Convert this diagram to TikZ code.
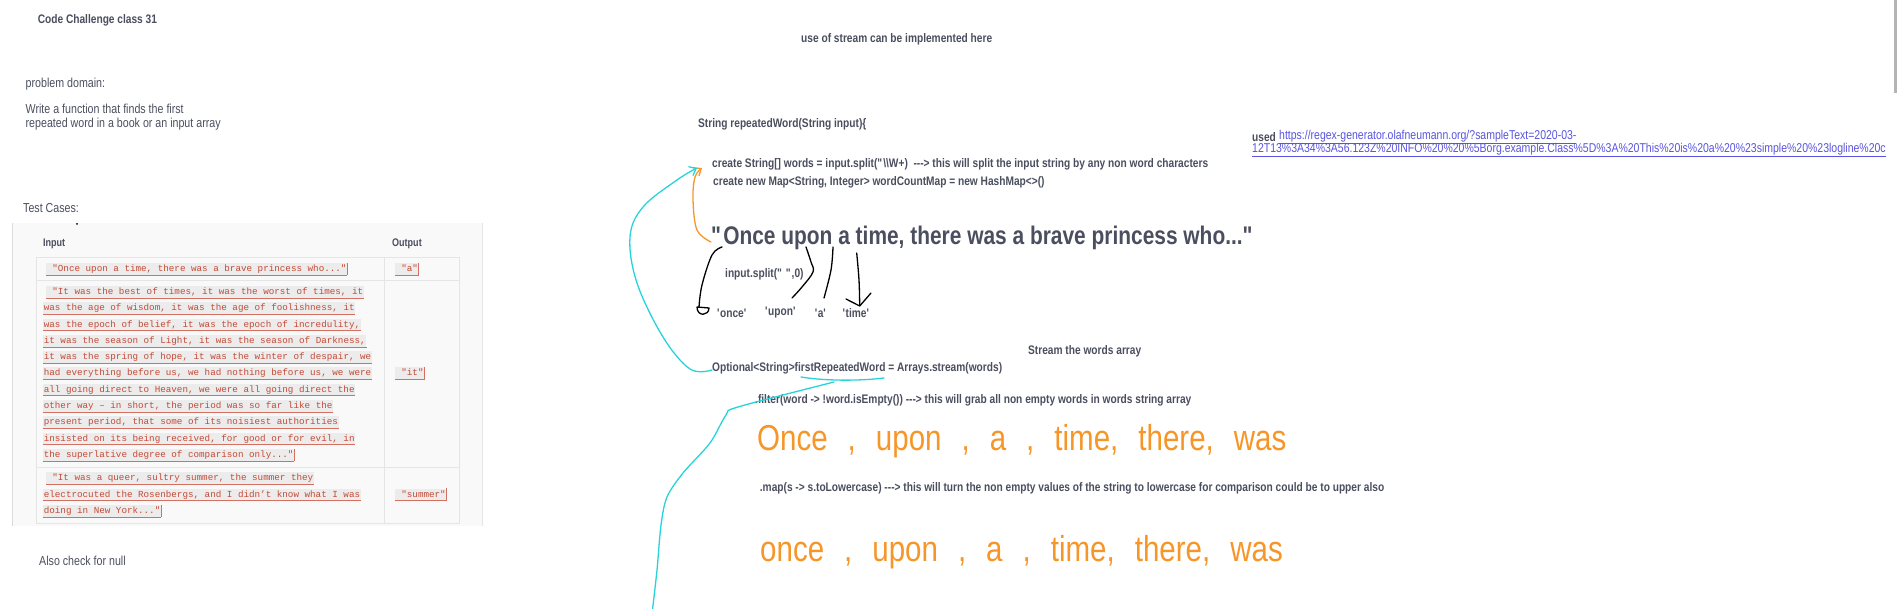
\documentclass[tikz,border=0pt]{standalone}
\usepackage{fontspec}
\setmainfont{Liberation Sans}[FakeStretch=0.82]
\setmonofont{Liberation Mono}
\usetikzlibrary{positioning, arrows.meta}

\definecolor{slate}{RGB}{74,78,94}
\definecolor{codered}{RGB}{196,74,54}
\definecolor{codeline}{RGB}{212,112,98}
\definecolor{codebg}{RGB}{236,236,236}
\definecolor{panelbg}{RGB}{249,249,249}
\definecolor{paneledge}{RGB}{220,220,220}
\definecolor{gridline}{RGB}{229,229,229}
\definecolor{pencyan}{RGB}{38,212,216}
\definecolor{penorange}{RGB}{247,150,40}
\definecolor{linkblue}{RGB}{88,84,222}
\definecolor{scrollgray}{RGB}{180,180,180}

\newcommand{\handgap}{\spaceskip 20pt\relax}

\begin{document}
\begin{tikzpicture}[
    x=1pt, y=-1pt,
    txt/.style={anchor=west, inner sep=0pt, text=slate, font=\fontsize{13}{13.5}\selectfont},
    note/.style={anchor=west, inner sep=0pt, text=slate, font=\fontsize{12.4}{14}\selectfont\bfseries},
    head/.style={note, font=\fontsize{11}{13}\selectfont\bfseries},
    code/.style={anchor=west, inner xsep=0.6pt, inner ysep=1pt, text height=7.5pt, text depth=2.5pt,
        fill=codebg, text=codered, font=\fontsize{9.25}{11}\selectfont\ttfamily,
        append after command={(\tikzlastnode.south west) edge[codeline, line width=1pt] (\tikzlastnode.south east)}},
    codeend/.style={code,
        append after command={(\tikzlastnode.south east) edge[codeline, line width=1pt] (\tikzlastnode.north east)}},
    link/.style={anchor=west, inner sep=0pt, text=linkblue, font=\fontsize{12.8}{14}\selectfont},
    hand/.style={anchor=west, inner sep=0pt, text=penorange, font=\fontsize{36}{36}\selectfont\handgap},
    pen/.style={line width=1.3pt, line cap=round, line join=round},
    barb/.style={-{Straight Barb[length=6pt, width=10pt]}}
]
    \useasboundingbox (0,0) rectangle (1901,609);
    \clip (0,0) rectangle (1901,609);

    % left column
    \node[note] (title) at (37.6,20) {Code Challenge class 31};
    \node[txt] (domain) at (25.5,84) {problem domain:};
    \node[txt, align=left] (task) at (25.5,117) {Write a function that finds the first\\repeated word in a book or an input array};
    \node[txt] (testcases) at (23,208) {Test Cases:};
    \node[txt] (nullnote) at (39,561) {Also check for null};

    % test case table
    \fill[panelbg] (12,223) rectangle (482,526);
    \draw[paneledge] (12,223) -- (12,526);
    \draw[gridline] (482,223) -- (482,526);
    \fill (77,224) circle (1);
    \draw[gridline] (36,257) rectangle (459,523);
    \draw[gridline] (36,280) -- (459,280);
    \draw[gridline] (36,467) -- (459,467);
    \draw[gridline] (384,257) -- (384,523);
    \node[head] (inhead) at (43,244) {Input};
    \node[head] (outhead) at (392,244) {Output};

    \node[codeend] (once1) at (46,269) {~"Once upon a time, there was a brave princess who..."};
    \node[codeend] (outa) at (395,269) {~"a"};

    \node[code] (best1) at (46,292) {~"It was the best of times, it was the worst of times, it};
    \node[code] (best2) at (43,308.3) {was the age of wisdom, it was the age of foolishness, it};
    \node[code] (best3) at (43,324.6) {was the epoch of belief, it was the epoch of incredulity,};
    \node[code] (best4) at (43,340.9) {it was the season of Light, it was the season of Darkness,};
    \node[code] (best5) at (43,357.2) {it was the spring of hope, it was the winter of despair, we};
    \node[code] (best6) at (43,373.5) {had everything before us, we had nothing before us, we were};
    \node[code] (best7) at (43,389.8) {all going direct to Heaven, we were all going direct the};
    \node[code] (best8) at (43,406.1) {other way – in short, the period was so far like the};
    \node[code] (best9) at (43,422.4) {present period, that some of its noisiest authorities};
    \node[code] (best10) at (43,438.7) {insisted on its being received, for good or for evil, in};
    \node[codeend] (best11) at (43,455) {the superlative degree of comparison only..."};
    \node[codeend] (outit) at (395,373.5) {~"it"};

    \node[code] (queer1) at (46,478.3) {~"It was a queer, sultry summer, the summer they};
    \node[code] (queer2) at (43,494.6) {electrocuted the Rosenbergs, and I didn’t know what I was};
    \node[codeend] (queer3) at (43,510.9) {doing in New York..."};
    \node[codeend] (outsummer) at (395,494.6) {~"summer"};

    % right column
    \node[note] (streamnote) at (801,39) {use of stream can be implemented here};
    \node[note] (signature) at (698,124) {String repeatedWord(String input)\{};
    \node[note] (splitwords) at (712,164) {create String[] words = input.split(\textquotedbl\textbackslash\textbackslash W+)\ \ -{}-{}-> this will split the input string by any non word characters};
    \node[note] (wordmap) at (713,182) {create new Map<String, Integer> wordCountMap = new HashMap<>()};
    \node[note] (used) at (1252,137) {used};
    \node[link] (link1) at (1279,137) {\underline{https://regex-generator.olafneumann.org/?sampleText=2020-03-}};
    \node[link] (link2) at (1252,150) {\underline{12T13\%3A34\%3A56.123Z\%20INFO\%20\%20\%5Borg.example.Class\%5D\%3A\%20This\%20is\%20a\%20\%23simple\%20\%23logline\%20c}};

    \node[note, font=\fontsize{25.5}{28}\selectfont\bfseries] (quote) at (711,238) {\textquotedbl Once upon a time, there was a brave princess who...\textquotedbl};
    \node[note] (splitlbl) at (725,274) {input.split(\textquotedbl\ \textquotedbl,0)};
    \node[note] (wonce) at (717,313) {\textquotesingle once\textquotesingle};
    \node[note] (wupon) at (765,313) {\textquotesingle upon\textquotesingle};
    \node[note] (wa) at (814.6,313) {\textquotesingle a\textquotesingle};
    \node[note] (wtime) at (842.5,313) {\textquotesingle time\textquotesingle};

    \node[note] (streamlbl) at (1028,351) {Stream the words array};
    \node[note] (optional) at (712,368) {Optional<String>firstRepeatedWord = Arrays.stream(words)};
    \node[note] (filter) at (755,400) {.filter(word -> !word.isEmpty()) -{}-{}-> this will grab all non empty words in words string array};
    \node[hand] (hand1) at (757,441) {Once , upon , a , time, there, was};
    \node[note] (maplbl) at (759.7,488) {.map(s -> s.toLowercase) -{}-{}-> this will turn the non empty values of the string to lowercase for comparison could be to upper also};
    \node[hand] (hand2) at (760,552) {once , upon , a , time, there, was};

    % pen strokes
    \draw[pen, penorange, barb] plot[smooth, tension=0.6] coordinates {([yshift=-4pt]quote.west) (697,230) (693,200) (695,177) ([xshift=-10pt, yshift=-4pt]splitwords.west)};
    \draw[pen, pencyan, barb] plot[smooth, tension=0.6] coordinates {([yshift=-2pt]optional.west) (690,369) (663,337) (637,283) (630,237) (643,207) (677,180) ([xshift=-15pt, yshift=-4pt]splitwords.west)};
    \draw[pen, pencyan] (801,377) .. controls (825,381) and (860,381) .. (884,378);
    \coordinate (cyanend) at (652,614);
    \draw[pen, pencyan] plot[smooth, tension=0.5] coordinates {(834,382) (738,407) (726,415) (710,443) (683,473) (667,497) (661,525) (657,570) (cyanend)};

    \draw[pen] plot[smooth, tension=0.6] coordinates {(722,247) (712,255) (702,285) (699,307)};
    \draw[pen] (697,307) -- (709,308) .. controls (709,316) and (697,317) .. (697,307);
    \draw[pen] plot[smooth, tension=0.6] coordinates {(806,247) (811,262) (813,272) (802,287) (792,298)};
    \draw[pen] plot[smooth, tension=0.6] coordinates {(833,247) (831,270) (824,298)};
    \draw[pen] plot[smooth, tension=0.6] coordinates {(856.7,253) (859,280) (859.7,305)};
    \draw[pen] (846,299) -- (859.7,306) -- (871,293);

    % scroll bar
    \fill[scrollgray] (1894,0) rectangle (1897,93);
\end{tikzpicture}
\end{document}
